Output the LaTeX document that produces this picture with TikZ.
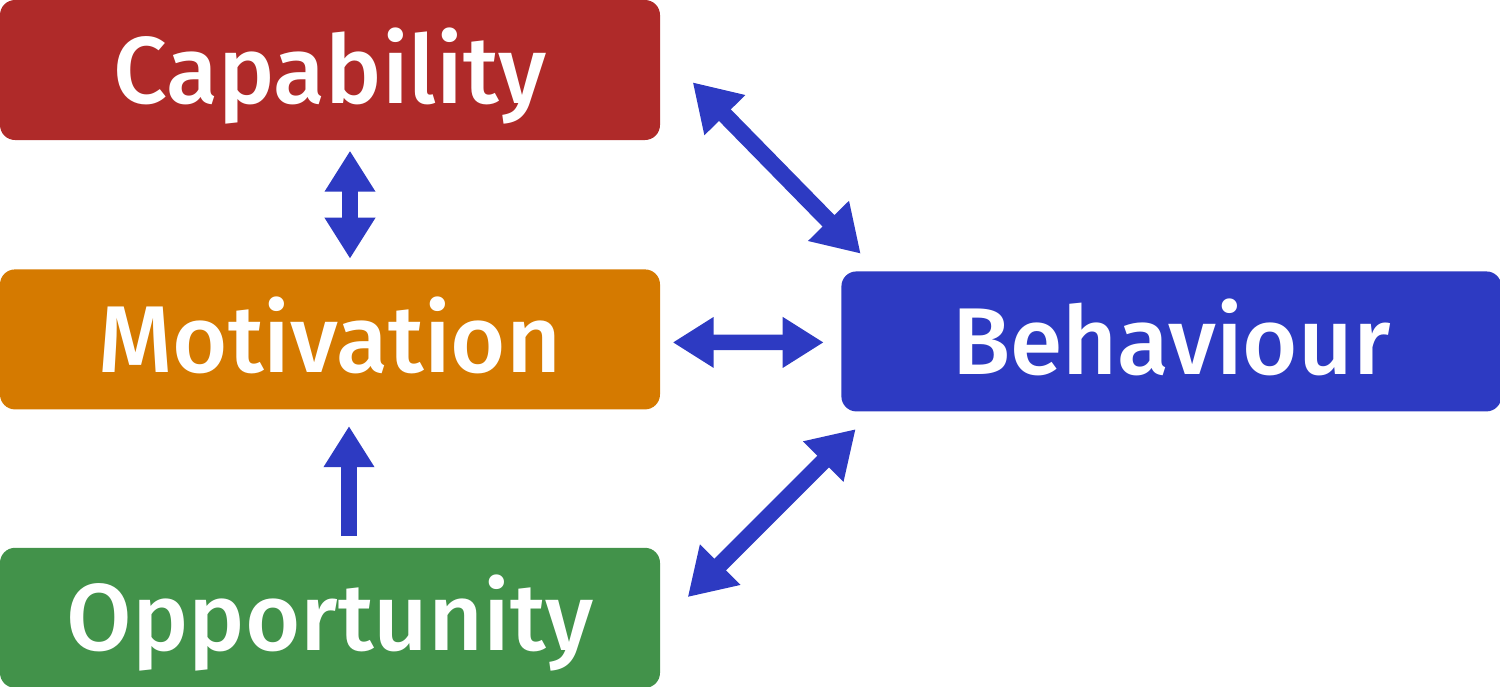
\documentclass[tikz,border=0pt]{standalone}
\usepackage{fontspec}
\IfFontExistsTF{Fira Sans Medium}{\setmainfont{Fira Sans Medium}}{\setmainfont{Fira Sans}}
\usetikzlibrary{positioning,arrows.meta}

\definecolor{capred}{HTML}{AF2A29}
\definecolor{motorange}{HTML}{D57A00}
\definecolor{oppgreen}{HTML}{42924A}
\definecolor{behblue}{HTML}{2D3AC2}

\begin{document}
\begin{tikzpicture}[node distance=1.28cm,
  box/.style={rounded corners=0.15cm, minimum width=6.6cm, minimum height=1.4cm, inner sep=0pt, text height=0.66cm, text depth=0pt, text=white, font=\fontsize{27}{30}\selectfont},
  flow/.style={draw=behblue, line width=0.155cm, >={Triangle[width=0.48cm,length=0.41cm]}},
  slant/.style={draw=behblue, line width=0.165cm, >={Triangle[width=0.54cm,length=0.46cm]}}]
\useasboundingbox (0,0) rectangle (15,-6.86);
\node (1)[box, fill=capred] at (3.3,-0.7) {Capability};
\node (2)[box, fill=motorange] [below =of 1] {Motivation};
\node (3)[box, fill=oppgreen] [below =1.37cm of 2] {Opportunity};
\node (4)[box, fill=behblue] [right =1.8cm of 2, yshift=-0.02cm] {Behaviour};
\path 	([xshift=0.2cm]1.south) edge[flow, <->, shorten <=0.1cm, shorten >=0.1cm] ([xshift=0.2cm]2.north)
		([xshift=0.19cm]3.north) edge[flow, ->, shorten <=0.11cm, shorten >=0.16cm] ([xshift=0.19cm]2.south)
		([yshift=-0.03cm]2.east) edge[flow, <->, shorten <=0.12cm, shorten >=0.17cm] ([yshift=-0.01cm]4.west)
		([xshift=0.32cm, yshift=-0.83cm]1.north east) edge[slant, <->] ([xshift=0.2cm, yshift=0.17cm]4.north west)
		([xshift=0.27cm, yshift=-0.5cm]3.north east) edge[slant, <->] ([xshift=0.15cm, yshift=-0.17cm]4.south west);
\end{tikzpicture}
\end{document}
